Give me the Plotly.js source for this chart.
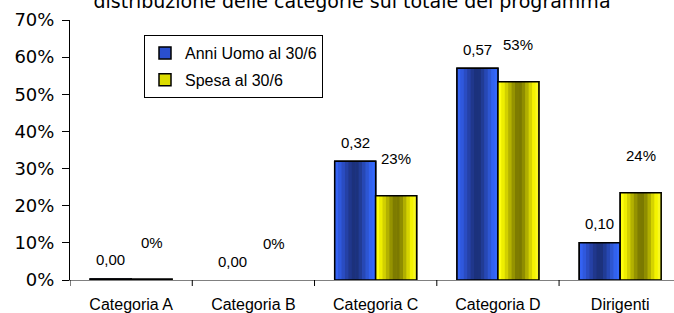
<!DOCTYPE html>
<html>
<head>
<meta charset="utf-8">
<script src="https://cdn.plot.ly/plotly-3.0.1.min.js"></script>
<style>html,body{margin:0;padding:0;background:#fff;}#chart{width:674px;height:313px;}</style>
</head>
<body>
<div id="chart"></div>
<script>
// ---- data ----
var categories = ["Categoria A", "Categoria B", "Categoria C", "Categoria D", "Dirigenti"];
var anniUomo = [0.003, 0, 0.32, 0.57, 0.10];
var spesa = [0.002, 0, 0.227, 0.534, 0.235];
var seriesNames = ["Anni Uomo al 30/6", "Spesa al 30/6"];
var yTickVals = [0, 0.1, 0.2, 0.3, 0.4, 0.5, 0.6, 0.7];
var chartTitle = "distribuzione delle categorie sul totale del programma";

// ---- style ----
var BW = 0.335; // bar width in category units
var blueStrips = ["#3462f2","#2f58dd","#2a4cc2","#2541a6","#20378c","#1c317c","#1c327d","#213c95","#2748b4","#2d56d2","#3262ee","#3468fb"];
var yellowStrips = ["#ffff10","#eeee00","#d2d000","#b3b100","#959300","#7e7c00","#7b7900","#8f8d00","#b1af00","#d6d400","#f4f300","#f8f820"];
var arial = "Liberation Sans, Arial, sans-serif";
var verdana = "DejaVu Sans, Verdana, sans-serif";

var xs = categories.map(function(c,i){return i;});
function shown(vals){ return vals.map(function(v){ return v === 0 ? null : v; }); }

var traces = [];
function addSeries(vals, name, solid, strips, off, legendRank) {
  var yv = shown(vals);
  traces.push({type:"bar", x: xs, y: yv, name: name,
    width: BW, offset: off, marker:{color: solid, line:{color:"#000", width:1.5}},
    showlegend: true, legendrank: legendRank, legendgroup: name, hoverinfo:"skip"});
  var n = strips.length, sw = BW / n;
  strips.forEach(function(col, k){
    traces.push({type:"bar", x: xs, y: yv,
      width: sw*1.15, offset: off + k*sw, marker:{color: col, line:{width:0}},
      showlegend:false, hoverinfo:"skip"});
  });
  traces.push({type:"bar", x: xs, y: yv,
    width: BW, offset: off, marker:{color:"rgba(0,0,0,0)", line:{color:"#000", width:1.5}},
    showlegend:false, hoverinfo:"skip"});
}
addSeries(anniUomo, seriesNames[0], "#2a4fcf", blueStrips, -BW, 1);
addSeries(spesa, seriesNames[1], "#dcdc00", yellowStrips, 0, 2);

var annotations = [];
anniUomo.forEach(function(v,i){
  annotations.push({x: i - BW/2, y: v, xref:"x", yref:"y", text: v.toFixed(2).replace(".", ","),
    showarrow:false, yanchor:"middle", yshift: 19, font:{family: arial, size:15, color:"#000"}});
});
spesa.forEach(function(v,i){
  annotations.push({x: i + BW/2, y: v, xref:"x", yref:"y", text: Math.round(v*100) + "%",
    showarrow:false, yanchor:"middle", yshift: 37, font:{family: arial, size:15, color:"#000"}});
});

var layout = {
  width: 674, height: 313,
  margin: {l:70, r:0, t:20, b:33, pad:0},
  paper_bgcolor:"#fff", plot_bgcolor:"#fff",
  barmode:"overlay",
  showlegend:true,
  title: {text: chartTitle, x: 352/674, xref:"container", xanchor:"center",
    y: 0.995, yref:"container", yanchor:"middle", font:{family: verdana, size:19, color:"#000"}},
  xaxis: {type:"linear", range:[-0.5, 4.44], tickmode:"array",
    tickvals: xs, ticktext: categories,
    showgrid:false, zeroline:false, showline:true, linecolor:"#808080", linewidth:1,
    ticks:"", tickfont:{family: arial, size:16, color:"#000"}, ticklabelstandoff: 10, fixedrange:true},
  yaxis: {range:[0, 0.7], tickmode:"array", tickvals: yTickVals, tickformat:".0%",
    showgrid:false, zeroline:false, showline:true, linecolor:"#000", linewidth:1,
    ticks:"outside", ticklen:7, tickcolor:"#000", tickfont:{family: verdana, size:18, color:"#000"},
    ticklabelstandoff: 4, fixedrange:true},
  legend: {x: (144-70)/604, y: (280-35)/260, xanchor:"left", yanchor:"top",
    bgcolor:"#fff", bordercolor:"#000", borderwidth:1,
    font:{family: arial, size:16, color:"#000"}, traceorder:"grouped", tracegroupgap: 3,
    itemwidth: 30},
  annotations: annotations,
  shapes: []
};
for (var b = 0; b < categories.length; b++) {
  layout.shapes.push({type:"line", xref:"x", yref:"paper", x0: b - 0.5, x1: b - 0.5, y0: 0, y1: -6/260,
    line:{color:"#000", width:1}});
}
Plotly.newPlot("chart", traces, layout, {staticPlot:true, displayModeBar:false});
</script>
</body>
</html>
